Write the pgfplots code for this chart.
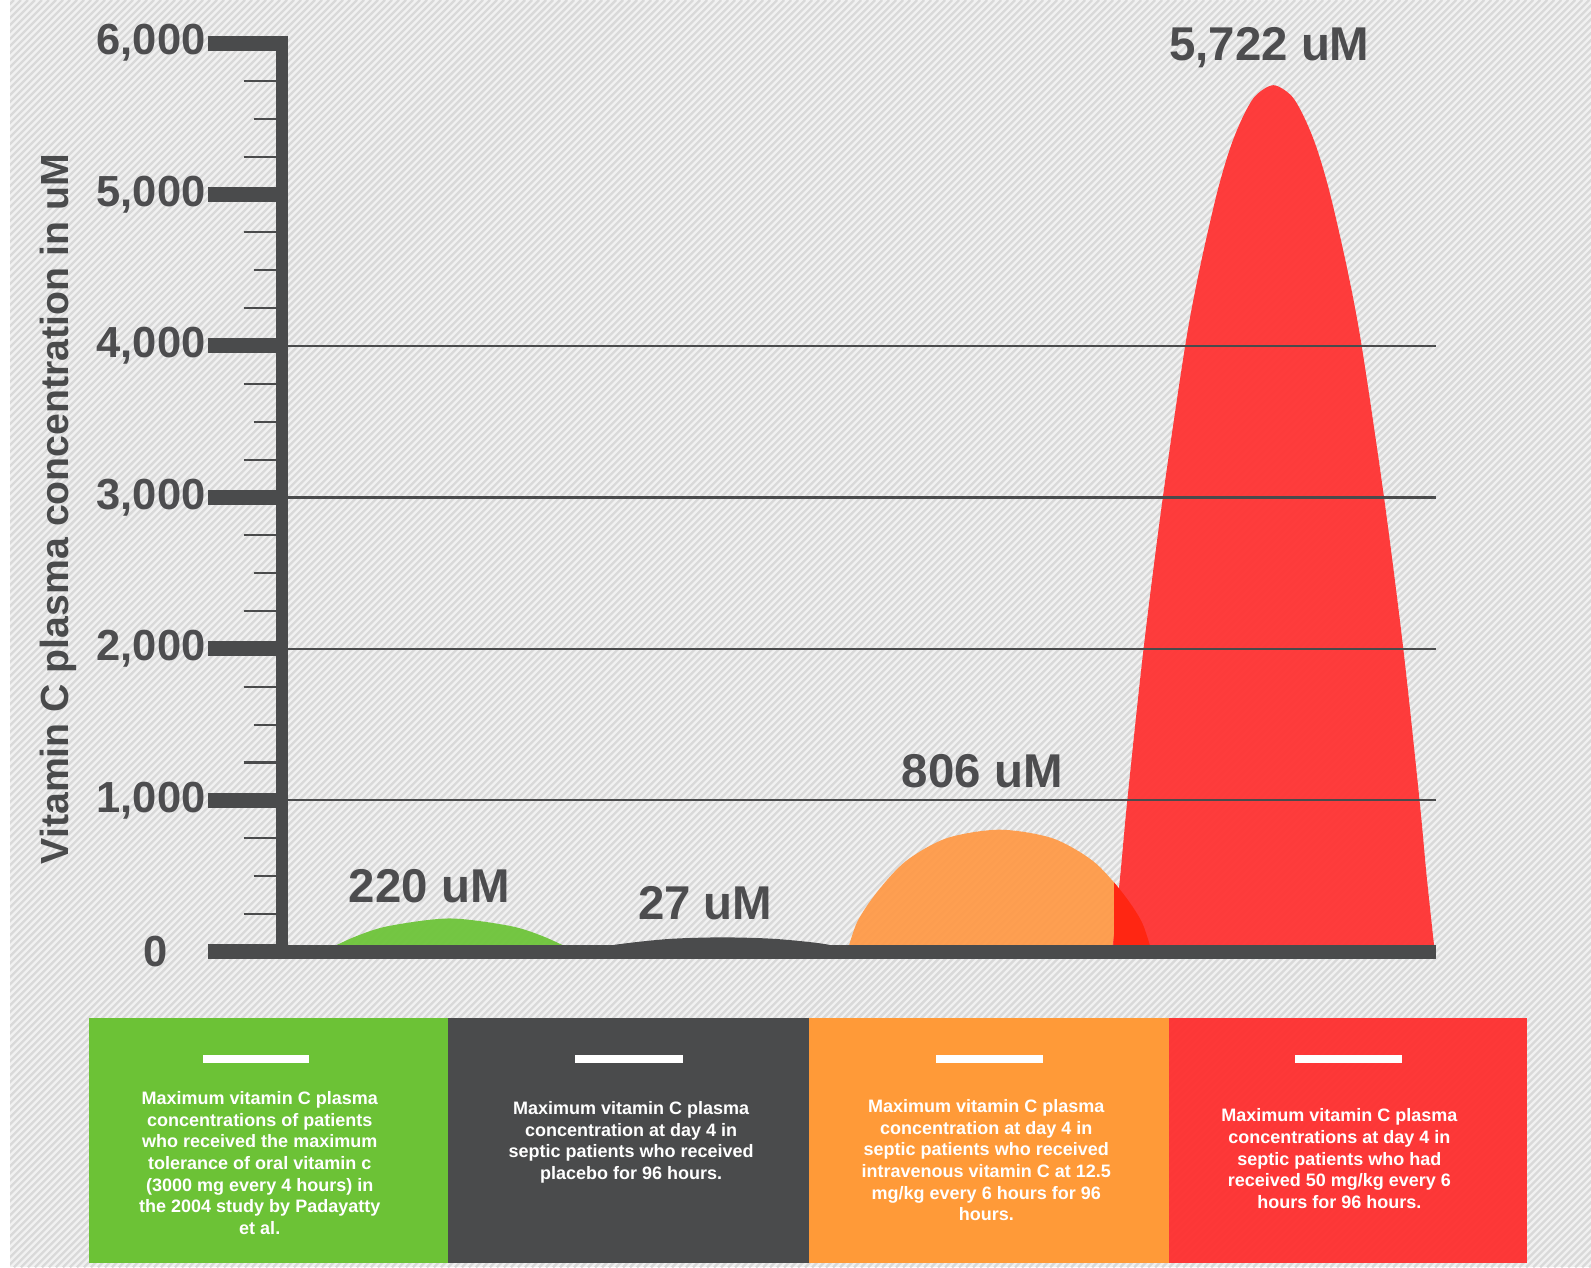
\documentclass[border=0pt]{standalone}
\usepackage{fontspec}
\setmainfont{Liberation Sans}
\usepackage{pgfplots}
\usepgfplotslibrary{fillbetween}
\pgfplotsset{compat=1.18}

\definecolor{bgc}{HTML}{F1F1F1}
\definecolor{stripe}{HTML}{D9D9D9}
\definecolor{axgray}{HTML}{4A4B4C}
\definecolor{txtgray}{HTML}{4D4D4F}
\definecolor{vgreen}{HTML}{6CC236}
\definecolor{hgreen}{HTML}{6EC43A}
\definecolor{horange}{HTML}{FF9A48}
\definecolor{hred}{HTML}{FF3333}
\definecolor{overlap}{HTML}{FF2612}
\definecolor{borange}{HTML}{FF9A38}
\definecolor{bred}{HTML}{FF2B2B}

\begin{document}
\begin{tikzpicture}[
    boxtext/.style={font=\fontsize{5.05}{6.06}\selectfont\bfseries, text=white, align=center, inner sep=0pt, anchor=north},
    vlab/.style={font=\fontsize{13.3}{15}\selectfont\bfseries, text=txtgray}
  ]
  % canvas, 0.01 cm per unit
  \fill[white] (0,0) rectangle (15.68,-12.49);
  \begin{scope}
    \clip (0.10,0) rectangle (15.68,-12.49);
    \fill[bgc] (0.10,0) rectangle (15.68,-12.49);
    \foreach \i in {0,...,410}
      \draw[stripe, line width=0.65pt] ({-12.49+0.069*\i},-12.49) -- ++(12.49,12.49);
  \end{scope}

  % legend boxes
  \fill[vgreen] (0.88,-10.03) rectangle (4.42,-12.45);
  \fill[axgray] (4.42,-10.03) rectangle (7.97,-12.45);
  \fill[borange] (7.97,-10.03) rectangle (11.52,-12.45);
  \fill[bred, fill opacity=0.93] (11.52,-10.03) rectangle (15.05,-12.45);
  \fill[white] (2.00,-10.40) rectangle (3.05,-10.48);
  \fill[white] (5.67,-10.40) rectangle (6.73,-10.48);
  \fill[white] (9.22,-10.40) rectangle (10.28,-10.48);
  \fill[white] (12.76,-10.40) rectangle (13.82,-10.48);

  \node[boxtext] at (2.56,-10.75) {Maximum vitamin C plasma\\concentrations of patients\\who received the maximum\\tolerance of oral vitamin c\\(3000 mg every 4 hours) in\\the 2004 study by Padayatty\\et al.};
  \node[boxtext] at (6.22,-10.85) {Maximum vitamin C plasma\\concentration at day 4 in\\septic patients who received\\placebo for 96 hours.};
  \node[boxtext] at (9.72,-10.83) {Maximum vitamin C plasma\\concentration at day 4 in\\septic patients who received\\intravenous vitamin C at 12.5\\mg/kg every 6 hours for 96\\hours.};
  \node[boxtext] at (13.20,-10.92) {Maximum vitamin C plasma\\concentrations at day 4 in\\septic patients who had\\received 50 mg/kg every 6\\hours for 96 hours.};

  \pgfplotsset{vcgeom/.style={
      at={(2.78cm,-9.38cm)}, anchor=south west,
      scale only axis, width=11.37cm, height=9.03cm,
      xmin=278, xmax=1415, ymin=0, ymax=6050,
      tick align=outside, xtick=\empty}}

  % shorter half-way minor ticks (500, 1500, ...)
  \begin{axis}[
      vcgeom, hide x axis,
      axis y line*=left, y axis line style={draw=none},
      ytick={500,1500,2500,3500,4500,5500}, yticklabels={},
      major tick length=0.28cm,
      major tick style={line width=0.6pt, color=axgray},
    ]
  \end{axis}

  \begin{axis}[
      vcgeom,
      axis x line*=bottom, axis y line*=left,
      x axis line style={line width=4pt, color=axgray, -},
      y axis line style={line width=3.15pt, color=axgray, -},
      ytick={0,1000,...,6000},
      yticklabels={{0\hspace*{0.37cm}},{1,000},{2,000},{3,000},{4,000},{5,000},{6,000}},
      minor ytick={250,750,1250,1750,2250,2750,3250,3750,4250,4750,5250,5750},
      major tick length=0.73cm,
      minor tick length=0.38cm,
      major tick style={line width=4.2pt, color=axgray},
      minor tick style={line width=0.6pt, color=axgray},
      y tick label style={font=\fontsize{12.2}{14}\selectfont\bfseries, text=txtgray, inner sep=0.5pt},
      extra y ticks={1000,2000,3000,4000},
      extra y tick labels={},
      extra y tick style={grid=major},
      major grid style={line width=0.6pt, color=axgray},
      ylabel={Vitamin C plasma concentration in uM},
      every axis y label/.style={at={(rel axis cs:-0.194,0.483)}, rotate=90, anchor=center,
        font=\fontsize{11}{13}\selectfont\bfseries, text=axgray},
      axis on top, clip=false,
      fill between/on layer=main,
    ]
    \addplot[draw=none, name path=base] coordinates {(300,0) (1415,0)};
    % oral maximum, 220 uM
    \addplot[draw=none, fill=hgreen, fill opacity=0.95, smooth] coordinates {
      (318,0) (350,100) (383,170) (443,220) (503,170) (536,100) (568,0)
    } \closedcycle;
    % placebo, 27 uM (drawn hump)
    \addplot[draw=none, fill=axgray, smooth] coordinates {
      (565,0) (610,50) (660,85) (712,95) (764,85) (814,50) (840,0)
    } \closedcycle;
    % 12.5 mg/kg, 806 uM
    \addplot[draw=none, name path=orange, smooth] coordinates {
      (835,0) (845,200) (865,400) (893,600) (933,750) (985,806)
      (1037,750) (1077,600) (1105,400) (1125,200) (1135,0)
    };
    \addplot[horange, fill opacity=0.94] fill between[of=orange and base];
    % 50 mg/kg, 5722 uM
    \addplot[draw=none, fill=hred, fill opacity=0.95, smooth] coordinates {
      (1096,0) (1104,500) (1111,1000) (1127,2000) (1146,3000) (1168,4000)
      (1182,4500) (1199,5000) (1212,5300) (1224,5500) (1237,5650) (1255,5722)
      (1273,5650) (1286,5500) (1298,5300) (1311,5000) (1328,4500) (1342,4000)
      (1364,3000) (1383,2000) (1399,1000) (1406,500) (1414,0)
    } \closedcycle;
    % where the two right humps overlap
    \addplot[overlap] fill between[of=orange and base, soft clip={domain=1098:1140}];

    \node[vlab] at (axis cs:423,435) {220 uM};
    \node[vlab] at (axis cs:695,322) {27 uM};
    \node[vlab] at (axis cs:968,1193) {806 uM};
    \node[vlab] at (axis cs:1251,5970) {5,722 uM};
  \end{axis}
  \pgfresetboundingbox
  \useasboundingbox (0,0) rectangle (15.68,-12.49);
\end{tikzpicture}
\end{document}
